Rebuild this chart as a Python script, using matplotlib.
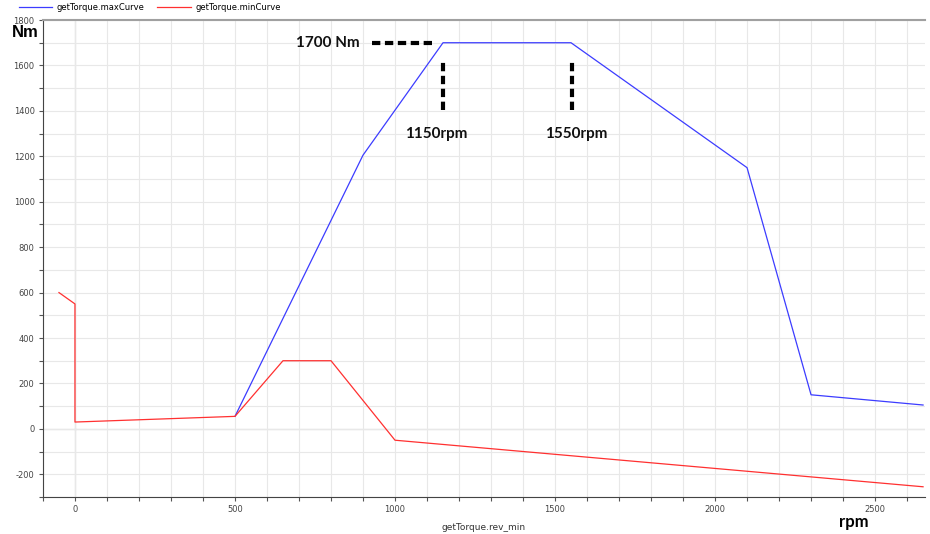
import matplotlib.pyplot as plt
from matplotlib.ticker import MultipleLocator

plt.rcParams['axes.unicode_minus'] = False

# data
max_rpm = [500, 900, 1150, 1550, 2100, 2300, 2650]
max_torque = [55, 1205, 1700, 1700, 1150, 150, 105]

min_rpm = [-50, 0, 0, 500, 650, 800, 1000, 2650]
min_torque = [600, 550, 30, 55, 300, 300, -50, -255]

fig = plt.figure(figsize=(9.3, 5.34), dpi=100)
ax = fig.add_axes([0.0462, 0.0693, 0.9484, 0.8932])

ax.plot(max_rpm, max_torque, color='#3c3cff', lw=0.9, label='getTorque.maxCurve')
ax.plot(min_rpm, min_torque, color='#ff3030', lw=0.9, label='getTorque.minCurve')

ax.set_xlim(-100, 2656)
ax.set_ylim(-300, 1800)
ax.xaxis.set_major_locator(MultipleLocator(500))
ax.xaxis.set_minor_locator(MultipleLocator(100))
ax.yaxis.set_major_locator(MultipleLocator(200))
ax.yaxis.set_minor_locator(MultipleLocator(100))
ax.grid(True, which='both', color='#e8e8e8', lw=0.8)
ax.axhline(0, color='#c8c8c8', lw=0.9, zorder=0.5)
ax.axvline(0, color='#c8c8c8', lw=0.9, zorder=0.5)
ax.set_axisbelow(True)

ax.tick_params(which='both', direction='out', length=3, width=0.8, color='#555555',
               labelsize=6, labelcolor='#444444', pad=3)
ax.spines['right'].set_visible(False)
ax.spines['top'].set_color('#a0a0a0')
ax.spines['top'].set_linewidth(1.5)
ax.spines['left'].set_color('#444444')
ax.spines['bottom'].set_color('#444444')

ax.set_xlabel('getTorque.rev_min', fontsize=6.5, color='#333333', labelpad=6)

# annotations
bold = dict(family='Lato', fontweight='bold', color='#111111')
dash = dict(color='black', lw=3, ls=(0, (2, 1.1)))
ax.plot([928, 1116], [1700, 1700], **dash)
ax.plot([1150, 1150], [1402, 1622], **dash)
ax.plot([1553, 1553], [1402, 1622], **dash)
ax.text(890, 1700, '1700 Nm', ha='right', va='center', fontsize=11, **bold)
ax.text(1128, 1300, '1150rpm', ha='center', va='center', fontsize=11, **bold)
ax.text(1566, 1300, '1550rpm', ha='center', va='center', fontsize=11, **bold)

fig.text(0.013, 0.94, 'Nm', ha='left', va='center', fontsize=12,
         family='Liberation Sans', fontweight='bold')
fig.text(0.902, 0.022, 'rpm', ha='left', va='center', fontsize=12,
         family='Lato', fontweight='bold')

fig.legend(loc='upper left', bbox_to_anchor=(0.012, 1.008), ncol=2, frameon=False,
           fontsize=6, handlelength=4, columnspacing=1.5, handletextpad=0.6)

fig.savefig('out.png', dpi=100)
